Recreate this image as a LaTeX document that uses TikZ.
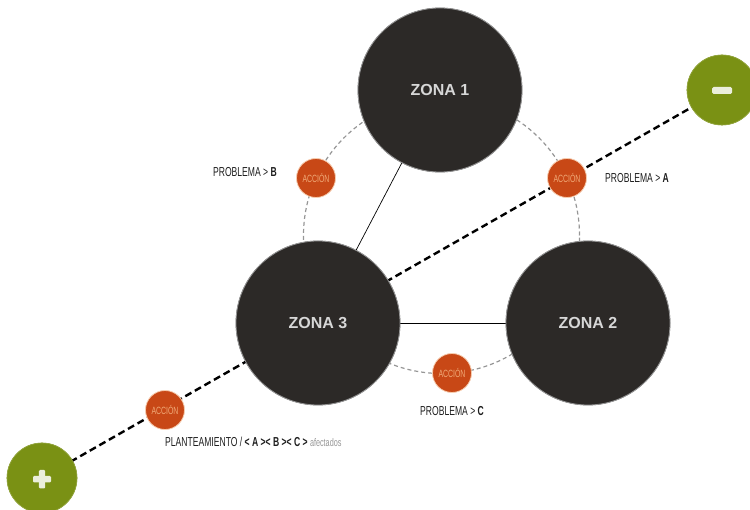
\documentclass[tikz,border=0pt]{standalone}
\usepackage{fontspec}
\setmainfont{Liberation Sans}
\newfontfamily\condfont[FakeStretch=0.66]{Liberation Sans}
\newfontfamily\zonefont{Liberation Sans}
\definecolor{zonefill}{RGB}{44,41,39}
\definecolor{zoneline}{RGB}{150,150,150}
\definecolor{zonetext}{RGB}{215,215,215}
\definecolor{accfill}{RGB}{200,72,22}
\definecolor{acctext}{RGB}{240,170,120}
\definecolor{greenfill}{RGB}{122,145,20}
\definecolor{ringgray}{RGB}{150,150,150}
\definecolor{labtext}{RGB}{30,30,30}
\definecolor{faint}{RGB}{150,150,150}
\tikzset{
  zone/.style={circle, minimum size=164pt, inner sep=0pt, fill=zonefill, draw=zoneline, line width=0.8pt,
    font=\zonefont\bfseries\fontsize{16}{16}\selectfont, text=zonetext},
  accion/.style={circle, minimum size=39pt, inner sep=0pt, fill=accfill, draw=acctext!60!white, line width=0.8pt,
    font=\condfont\fontsize{10.5}{10.5}\selectfont, text=acctext},
  signo/.style={circle, minimum size=70pt, inner sep=0pt, fill=greenfill, draw=greenfill!80!white, line width=0.6pt},
  lab/.style={font=\condfont\fontsize{13}{13}\selectfont, text=labtext, inner sep=0pt},
  link/.style={draw=black, line width=0.7pt},
  ruta/.style={draw=black, line width=2.4pt, dash pattern=on 7pt off 4pt},
  anillo/.style={draw=ringgray, line width=1.2pt, dash pattern=on 4pt off 3pt}
}
\begin{document}
\begin{tikzpicture}[x=1pt,y=-1pt]
\useasboundingbox (0,0) rectangle (750,510);
% dashed ring
\coordinate (rc) at (441.5,235.5);
\draw[anillo] (rc) circle[radius=138pt];
% nodes (positions)
\path node[zone] (z1) at (440,90) {}
      node[zone] (z3) at (318,323) {}
      node[zone] (z2) at (588,323) {}
      node[signo] (mas) at (42,478) {}
      node[signo] (menos) at (722,90) {};
% connectors (behind circles)
\draw[link] (z1.center) -- (z3.center);
\draw[link] (z3.center) -- (z2.center);
\draw[ruta] (mas.center) -- (menos.center);
% redraw circles on top
\node[zone] at (z1) {ZONA 1};
\node[zone] at (z3) {ZONA 3};
\node[zone] at (z2) {ZONA 2};
\node[signo] at (mas) {};
\node[signo] at (menos) {};
\fill[white!85!greenfill, rounded corners=1.2pt] (33,476) rectangle (51,482.5);
\fill[white!85!greenfill, rounded corners=1.2pt] (38.8,470) rectangle (45.2,488.5);
\fill[white!85!greenfill, rounded corners=1.5pt] (712,87) rectangle (732,94);
% actions
\node[accion] (a1) at (316,178) {ACCIÓN};
\node[accion] (a2) at (567,178) {ACCIÓN};
\node[accion] (a3) at (452,373) {ACCIÓN};
\node[accion] (a4) at (165,410) {ACCIÓN};
% labels
\node[lab, anchor=east] (lb) at (277,172) {PROBLEMA > \textbf{B}};
\node[lab, anchor=west] (la) at (605,178) {PROBLEMA > \textbf{A}};
\node[lab, anchor=west] (lc) at (420,411) {PROBLEMA > \textbf{C}};
\node[lab, anchor=west] (lp) at (165,442) {PLANTEAMIENTO / \textbf{< A >< B >< C >} {\color{faint}\fontsize{11}{11}\selectfont afectados}};
\end{tikzpicture}
\end{document}
